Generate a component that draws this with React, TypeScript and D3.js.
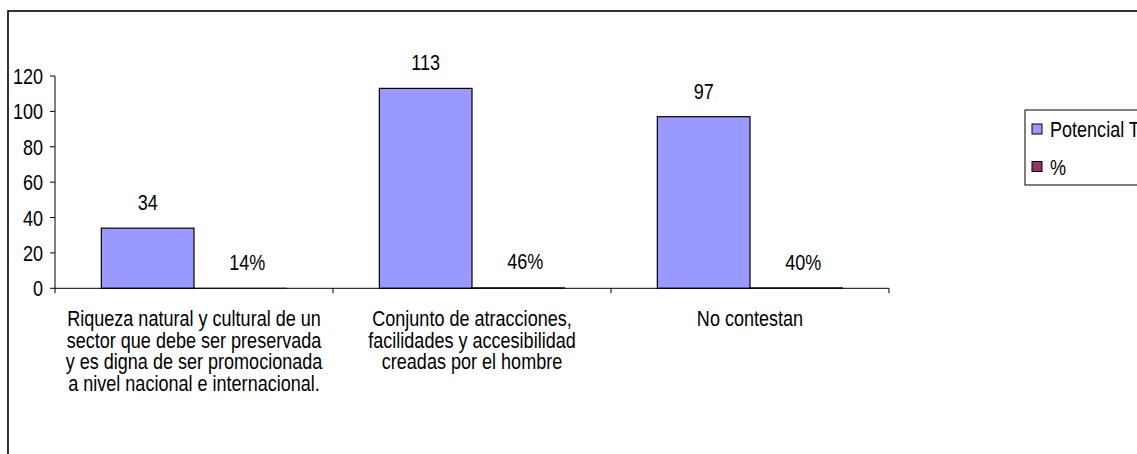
import React from "react";
import * as d3 from "d3";

const categories: string[][] = [
  ["Riqueza natural y cultural de un", "sector que debe ser preservada", "y es digna de ser promocionada", "a nivel nacional e internacional."],
  ["Conjunto de atracciones,", "facilidades y accesibilidad", "creadas por el hombre"],
  ["No contestan"],
];
const categoryKeys = ["c1", "c2", "c3"];
const seriesNames = ["Potencial Turístico", "%"];
const potencialValues = [34, 113, 97];
const percentValues = [0.14, 0.46, 0.4];
const percentLabels = ["14%", "46%", "40%"];
const yTicks = [0, 20, 40, 60, 80, 100, 120];
const colors = ["#9999FF", "#993366"];

const W = 1137;
const H = 454;
const FONT = "'Liberation Sans', Arial, sans-serif";
const FS = 22;
const SX = 0.82;

function T({ x, y, anchor = "middle", children }: { x: number; y: number; anchor?: string; children: React.ReactNode }) {
  return (
    <g transform={`translate(${x},${y}) scale(${SX},1)`}>
      <text x={0} y={0} textAnchor={anchor as any} fontFamily={FONT} fontSize={FS} fill="#000">
        {children}
      </text>
    </g>
  );
}

export default function App() {
  const x = d3.scaleBand<string>().domain(categoryKeys).range([55, 889]).paddingInner(0).paddingOuter(0);
  const xs = d3.scaleBand<string>().domain(seriesNames).range([0, x.bandwidth()]).paddingInner(0).paddingOuter(0.5);
  const y = d3.scaleLinear().domain([0, 120]).range([288.3, 76]);
  const y0 = y(0);

  return (
    <svg width={W} height={H} style={{ position: "absolute", left: 0, top: 0, background: "#fff" }}>
      <rect x={0} y={0} width={W} height={H} fill="#fff" />
      <rect x={8} y={11} width={W + 20} height={H + 20} fill="none" stroke="#000" strokeWidth={1.6} />

      {/* bars */}
      {categoryKeys.map((k, i) => {
        const bx0 = (x(k) as number) + (xs(seriesNames[0]) as number);
        const bx1 = (x(k) as number) + (xs(seriesNames[1]) as number);
        const bw = xs.bandwidth();
        const v0 = potencialValues[i];
        const v1 = percentValues[i];
        return (
          <g key={k}>
            <rect x={bx0} y={y(v0)} width={bw} height={y0 - y(v0)} fill={colors[0]} stroke="#000" strokeWidth={1.2} />
            <rect x={bx1} y={y(v1)} width={bw} height={Math.max(0, y0 - y(v1))} fill={colors[1]} stroke="#000" strokeWidth={0.6} />
            <T x={bx0 + bw / 2} y={y(v0) - 18}>{v0}</T>
            <T x={bx1 + bw / 2 + 7} y={y(v1) - 18}>{percentLabels[i]}</T>
          </g>
        );
      })}

      {/* y axis */}
      <line x1={55} x2={55} y1={y(120)} y2={y0 + 5} stroke="#000" strokeWidth={1} />
      {yTicks.map((t) => (
        <g key={t}>
          <line x1={50} x2={55} y1={y(t)} y2={y(t)} stroke="#000" strokeWidth={1} />
          <T x={43} y={y(t) + 8} anchor="end">{t}</T>
        </g>
      ))}

      {/* x axis */}
      <line x1={55} x2={889} y1={y0} y2={y0} stroke="#000" strokeWidth={1} />
      {categoryKeys.map((k) => (
        <line key={k} x1={(x(k) as number) + x.bandwidth()} x2={(x(k) as number) + x.bandwidth()} y1={y0} y2={y0 + 5} stroke="#000" strokeWidth={1} />
      ))}
      {categoryKeys.map((k, i) => (
        <g key={k + "l"}>
          {categories[i].map((line, j) => (
            <T key={j} x={(x(k) as number) + x.bandwidth() / 2} y={326 + j * 21.7}>{line}</T>
          ))}
        </g>
      ))}

      {/* legend */}
      <rect x={1025} y={110} width={200} height={75} fill="#fff" stroke="#000" strokeWidth={1} />
      {seriesNames.map((s, i) => (
        <g key={s}>
          <rect x={1032} y={124 + i * 37.5} width={10} height={10} fill={colors[i]} stroke="#000" strokeWidth={1} />
          <T x={1050} y={129 + i * 37.5 + 8} anchor="start">{s}</T>
        </g>
      ))}
    </svg>
  );
}
